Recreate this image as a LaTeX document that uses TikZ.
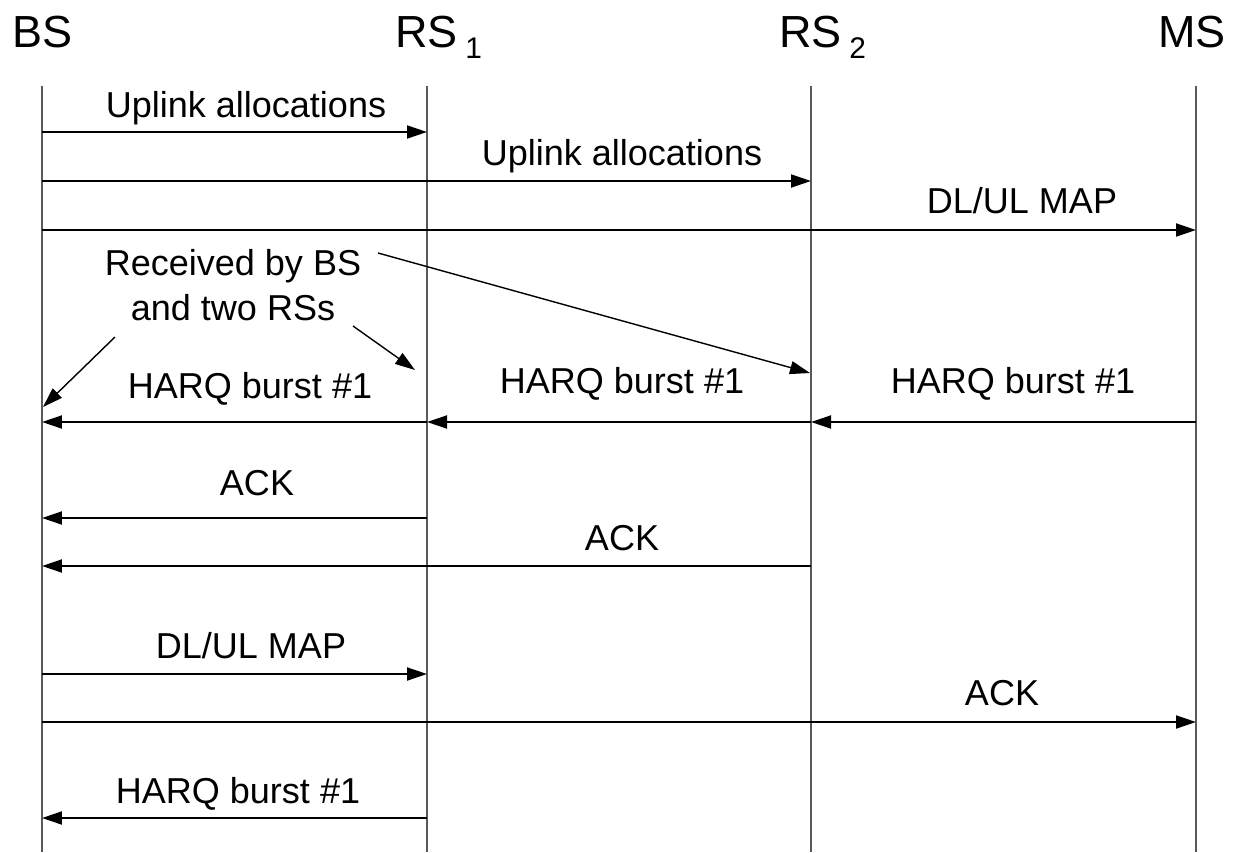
\documentclass[tikz,border=0pt]{standalone}
\usepackage{fontspec}
\setmainfont{Liberation Sans}
\usetikzlibrary{arrows.meta}

\newcommand{\subidx}[1]{\,\raisebox{-0.24cm}{\fontsize{17}{17}\selectfont #1}}

\begin{document}
\begin{tikzpicture}[x=0.02cm, y=-0.02cm,
    lifeline/.style={line width=1.4pt, black!65},
    msg/.style={line width=1.1pt, -{Triangle[length=0.4cm,width=0.26cm]}},
    hint/.style={line width=0.8pt, -{Triangle[length=0.4cm,width=0.26cm]}},
    lbl/.style={font=\fontsize{20.5}{24}\selectfont, inner sep=0pt, anchor=base},
    head/.style={font=\fontsize{25.6}{30}\selectfont, inner sep=0pt}]

    \useasboundingbox (0,0) rectangle (1237,852);

    % Draw the station names
    \node[head, anchor=base] (bs) at (42,47) {BS};
    \node[head, anchor=base west] (rs1) at (395,47) {RS\subidx{1}};
    \node[head, anchor=base west] (rs2) at (779,47) {RS\subidx{2}};
    \node[head, anchor=base] (ms) at (1192,47) {MS};

    % Draw the lifelines
    \coordinate (bsT) at (42,86);    \coordinate (bsB) at (42,852);
    \coordinate (rs1T) at (427,86);  \coordinate (rs1B) at (427,852);
    \coordinate (rs2T) at (811,86);  \coordinate (rs2B) at (811,852);
    \coordinate (msT) at (1196,86);  \coordinate (msB) at (1196,852);
    \foreach \s in {bs,rs1,rs2,ms}
        \draw[lifeline] (\s T) -- (\s B);

    % Rows of the messages
    \foreach \n/\y in {r1/132, r2/181, r3/230, r4/422, r5/518,
                       r6/566, r7/674, r8/722, r9/818}
        \coordinate (\n) at (0,\y);

    % Draw the messages
    \draw[msg] (bsT |- r1) -- (rs1T |- r1);
    \draw[msg] (bsT |- r2) -- (rs2T |- r2);
    \draw[msg] (bsT |- r3) -- (msT |- r3);
    \draw[msg] (msT |- r4) -- (rs2T |- r4);
    \draw[msg] (rs2T |- r4) -- (rs1T |- r4);
    \draw[msg] (rs1T |- r4) -- (bsT |- r4);
    \draw[msg] (rs1T |- r5) -- (bsT |- r5);
    \draw[msg] (rs2T |- r6) -- (bsT |- r6);
    \draw[msg] (bsT |- r7) -- (rs1T |- r7);
    \draw[msg] (bsT |- r8) -- (msT |- r8);
    \draw[msg] (rs1T |- r9) -- (bsT |- r9);

    % Label the messages
    \node[lbl] (ul1) at (246,117) {Uplink allocations};
    \node[lbl] (ul2) at (622,165) {Uplink allocations};
    \node[lbl] (map1) at (1022,213) {DL/UL MAP};
    \node[lbl] (harq1) at (250,398) {HARQ burst \#1};
    \node[lbl] (harq2) at (622,393) {HARQ burst \#1};
    \node[lbl] (harq3) at (1013,393) {HARQ burst \#1};
    \node[lbl] (ack1) at (257,495) {ACK};
    \node[lbl] (ack2) at (622,550) {ACK};
    \node[lbl] (map2) at (251,658) {DL/UL MAP};
    \node[lbl] (ack3) at (1002,705) {ACK};
    \node[lbl] (harq4) at (238,803) {HARQ burst \#1};

    % The note and its arrows
    \node[lbl] (note1) at (233,275) {Received by BS};
    \node[lbl] (note2) at (233,320) {and two RSs};
    \coordinate (h1s) at (378,253);  \coordinate (h1e) at (810,373);
    \coordinate (h2s) at (353,326);  \coordinate (h2e) at (415,370);
    \coordinate (h3s) at (115,337);  \coordinate (h3e) at (43,407);
    \draw[hint] (h1s) -- (h1e);
    \draw[hint] (h2s) -- (h2e);
    \draw[hint] (h3s) -- (h3e);

\end{tikzpicture}
\end{document}
